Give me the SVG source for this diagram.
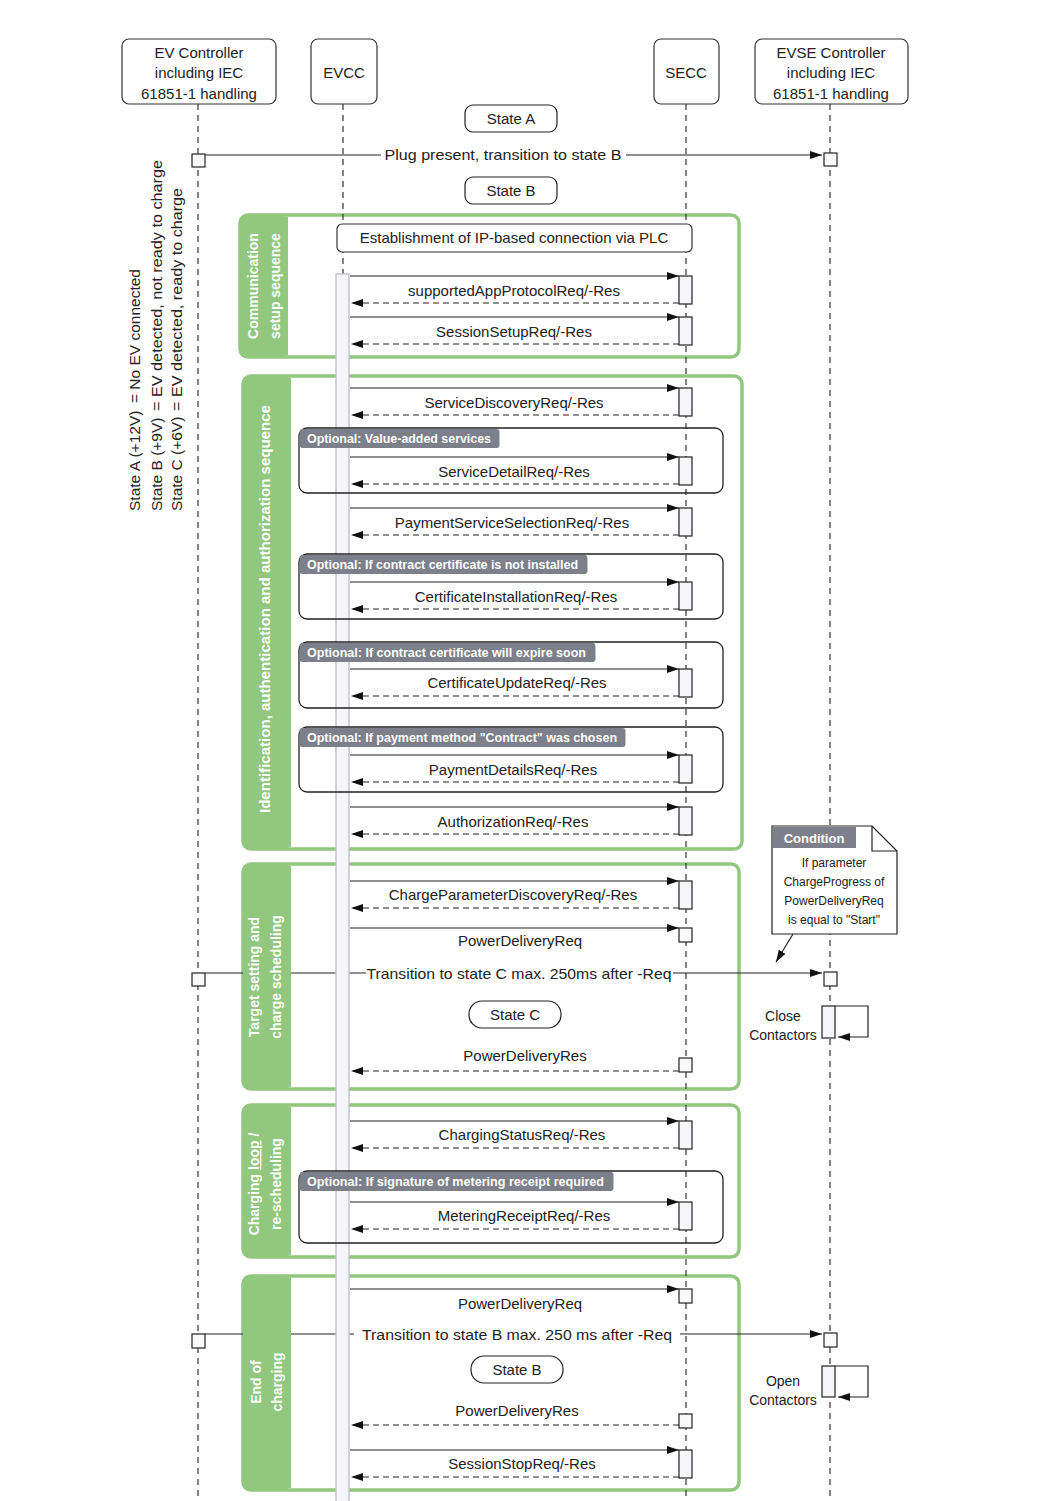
<svg xmlns="http://www.w3.org/2000/svg" width="1052" height="1501" viewBox="0 0 1052 1501">
<defs>
<marker id="ah" markerUnits="userSpaceOnUse" markerWidth="13" markerHeight="9" refX="12" refY="4" orient="auto">
<path d="M0,0 L12,4 L0,8 z" fill="#111"/>
</marker>
</defs>
<style>
.t{font-family:"Liberation Sans",Arial,sans-serif;font-size:15px;fill:#222}
.c{text-anchor:middle}
.hb{fill:#fff;stroke:#333;stroke-width:1.2}
.ll{stroke:#333;stroke-width:1.2;stroke-dasharray:6 5;fill:none}
.msg{stroke:#222;stroke-width:1.2;fill:none;marker-end:url(#ah)}
.ret{stroke:#222;stroke-width:1.2;fill:none;stroke-dasharray:6 4;marker-end:url(#ah)}
.act{fill:#f6f6fa;stroke:#222;stroke-width:1.2}
.sec{fill:none;stroke:#91c77e;stroke-width:3.5}
.side{fill:#91c77e}
.st{font-family:"Liberation Sans",Arial,sans-serif;font-size:14px;font-weight:bold;fill:#fff;text-anchor:middle}
.opt{fill:none;stroke:#222;stroke-width:1.3}
.tab{fill:#7d808b}
.tt{font-family:"Liberation Sans",Arial,sans-serif;font-size:12px;font-weight:bold;fill:#fff}
.sq{fill:#fafafa;stroke:#222;stroke-width:1.2}
.pill{fill:#fff;stroke:#222;stroke-width:1.2}
.lg{font-family:"Liberation Sans",Arial,sans-serif;font-size:15.5px;fill:#222}
</style>

<!-- section frames -->
<g id="sections">
<rect class="sec" x="240" y="215" width="499" height="142" rx="8"/>
<rect class="sec" x="243" y="376" width="499" height="473" rx="8"/>
<rect class="sec" x="243" y="864" width="496" height="225" rx="8"/>
<rect class="sec" x="243" y="1105" width="496" height="152" rx="8"/>
<rect class="sec" x="243" y="1276" width="496" height="214" rx="8"/>
</g>

<!-- participants -->
<g id="p-evc">
<rect class="hb" x="122" y="39" width="154" height="65" rx="7"/>
<text class="t c" x="199" y="58">EV Controller</text>
<text class="t c" x="199" y="78">including IEC</text>
<text class="t c" x="199" y="99">61851-1 handling</text>
</g>
<g id="p-evcc">
<rect class="hb" x="311" y="39" width="66" height="65" rx="7"/>
<text class="t c" x="344" y="78">EVCC</text>
</g>
<g id="p-secc">
<rect class="hb" x="654" y="39" width="65" height="65" rx="7"/>
<text class="t c" x="686" y="78">SECC</text>
</g>
<g id="p-evse">
<rect class="hb" x="755" y="39" width="153" height="65" rx="7"/>
<text class="t c" x="831" y="58">EVSE Controller</text>
<text class="t c" x="831" y="78">including IEC</text>
<text class="t c" x="831" y="99">61851-1 handling</text>
</g>

<g id="lifelines">
<line class="ll" x1="198" y1="104" x2="198" y2="1501"/>
<line class="ll" x1="343" y1="104" x2="343" y2="1501"/>
<line class="ll" x1="686" y1="104" x2="686" y2="1501"/>
<line class="ll" x1="830" y1="104" x2="830" y2="1501"/>
</g>

<!-- states -->
<g id="state-a"><rect class="pill" x="465" y="105" width="92" height="27" rx="8"/><text class="t c" x="511" y="124">State A</text></g>
<g id="state-b1"><rect class="pill" x="465" y="177" width="92" height="27" rx="8"/><text class="t c" x="511" y="196">State B</text></g>
<g id="state-c"><rect class="pill" x="469" y="1001" width="92" height="27" rx="13"/><text class="t c" x="515" y="1020">State C</text></g>
<g id="state-b2"><rect class="pill" x="471" y="1356" width="92" height="27" rx="13"/><text class="t c" x="517" y="1375">State B</text></g>

<g id="connectors">
<line class="msg" x1="205" y1="155" x2="822" y2="155"/>
<line class="msg" x1="205" y1="973" x2="822" y2="973"/>
<line class="msg" x1="205" y1="1334" x2="822" y2="1334"/>

<line class="msg" x1="350" y1="276" x2="679" y2="276"/><line class="ret" x1="679" y1="303" x2="351" y2="303"/>
<line class="msg" x1="350" y1="317" x2="679" y2="317"/><line class="ret" x1="679" y1="344" x2="351" y2="344"/>
<line class="msg" x1="350" y1="388" x2="679" y2="388"/><line class="ret" x1="679" y1="415" x2="351" y2="415"/>
<line class="msg" x1="350" y1="457" x2="679" y2="457"/><line class="ret" x1="679" y1="484" x2="351" y2="484"/>
<line class="msg" x1="350" y1="508" x2="679" y2="508"/><line class="ret" x1="679" y1="535" x2="351" y2="535"/>
<line class="msg" x1="350" y1="582" x2="679" y2="582"/><line class="ret" x1="679" y1="609" x2="351" y2="609"/>
<line class="msg" x1="350" y1="669" x2="679" y2="669"/><line class="ret" x1="679" y1="696" x2="351" y2="696"/>
<line class="msg" x1="350" y1="755" x2="679" y2="755"/><line class="ret" x1="679" y1="782" x2="351" y2="782"/>
<line class="msg" x1="350" y1="807" x2="679" y2="807"/><line class="ret" x1="679" y1="834" x2="351" y2="834"/>
<line class="msg" x1="350" y1="881" x2="679" y2="881"/><line class="ret" x1="679" y1="908" x2="351" y2="908"/>
<line class="msg" x1="350" y1="928" x2="679" y2="928"/>
<line class="ret" x1="679" y1="1071" x2="351" y2="1071"/>
<line class="msg" x1="350" y1="1121" x2="679" y2="1121"/><line class="ret" x1="679" y1="1148" x2="351" y2="1148"/>
<line class="msg" x1="350" y1="1202" x2="679" y2="1202"/><line class="ret" x1="679" y1="1229" x2="351" y2="1229"/>
<line class="msg" x1="350" y1="1289" x2="679" y2="1289"/>
<line class="ret" x1="679" y1="1425" x2="351" y2="1425"/>
<line class="msg" x1="350" y1="1450" x2="679" y2="1450"/><line class="ret" x1="679" y1="1477" x2="351" y2="1477"/>

<line class="msg" x1="793" y1="934" x2="776" y2="962"/>
<path class="msg" d="M835,1006 H868 V1037 H838"/>
<path class="msg" d="M835,1366 H868 V1397 H838"/>
</g>

<g id="activations">
<rect class="act" x="679" y="276" width="13" height="28"/>
<rect class="act" x="679" y="317" width="13" height="28"/>
<rect class="act" x="679" y="388" width="13" height="28"/>
<rect class="act" x="679" y="457" width="13" height="28"/>
<rect class="act" x="679" y="508" width="13" height="28"/>
<rect class="act" x="679" y="582" width="13" height="28"/>
<rect class="act" x="679" y="669" width="13" height="28"/>
<rect class="act" x="679" y="755" width="13" height="28"/>
<rect class="act" x="679" y="807" width="13" height="28"/>
<rect class="act" x="679" y="881" width="13" height="28"/>
<rect class="sq" x="679" y="928" width="13" height="14"/>
<rect class="sq" x="679" y="1058" width="13" height="14"/>
<rect class="act" x="679" y="1121" width="13" height="28"/>
<rect class="act" x="679" y="1202" width="13" height="28"/>
<rect class="sq" x="679" y="1289" width="13" height="14"/>
<rect class="sq" x="679" y="1414" width="13" height="14"/>
<rect class="act" x="679" y="1450" width="13" height="28"/>
<rect class="sq" x="192" y="154" width="13" height="13"/>
<rect class="sq" x="824" y="153" width="13" height="13"/>
<rect class="sq" x="192" y="973" width="13" height="13"/>
<rect class="sq" x="824" y="972" width="13" height="14"/>
<rect class="sq" x="192" y="1334" width="13" height="14"/>
<rect class="sq" x="824" y="1333" width="13" height="14"/>
<rect class="act" x="822" y="1006" width="13" height="32"/>
<rect class="act" x="822" y="1366" width="13" height="31"/>
</g>

<g id="sidebars">
<rect class="side" x="240" y="215" width="48" height="142" rx="8"/><rect class="side" x="262" y="216.75" width="26" height="138.5"/>
<rect class="side" x="243" y="376" width="48" height="473" rx="8"/><rect class="side" x="265" y="377.75" width="26" height="469.5"/>
<rect class="side" x="243" y="864" width="48" height="225" rx="8"/><rect class="side" x="265" y="865.75" width="26" height="221.5"/>
<rect class="side" x="243" y="1105" width="48" height="152" rx="8"/><rect class="side" x="265" y="1106.75" width="26" height="148.5"/>
<rect class="side" x="243" y="1276" width="48" height="214" rx="8"/><rect class="side" x="265" y="1277.75" width="26" height="210.5"/>
<text class="st" transform="translate(258,286) rotate(-90)">Communication</text>
<text class="st" transform="translate(280,286) rotate(-90)">setup sequence</text>
<text class="st" transform="translate(270,609) rotate(-90)" textLength="408" lengthAdjust="spacingAndGlyphs">Identification, authentication and authorization sequence</text>
<text class="st" transform="translate(259,977) rotate(-90)">Target setting and</text>
<text class="st" transform="translate(281,977) rotate(-90)">charge scheduling</text>
<text class="st" transform="translate(259,1184) rotate(-90)">Charging <tspan text-decoration="underline">loop</tspan> /</text>
<text class="st" transform="translate(281,1184) rotate(-90)">re-scheduling</text>
<text class="st" transform="translate(261,1382) rotate(-90)">End of</text>
<text class="st" transform="translate(282,1382) rotate(-90)">charging</text>
</g>

<rect id="evcc-bar" x="336" y="274" width="13" height="1230" fill="#f5f5fa" stroke="#c4c4ce" stroke-width="1.5"/>

<g id="optionals">
<rect class="opt" x="299" y="428" width="424" height="65" rx="8"/>
<rect class="opt" x="299" y="554" width="424" height="65" rx="8"/>
<rect class="opt" x="299" y="642" width="424" height="66" rx="8"/>
<rect class="opt" x="299" y="727" width="424" height="65" rx="8"/>
<rect class="opt" x="299" y="1171" width="424" height="72" rx="8"/>
<rect class="tab" x="299.5" y="429" width="200" height="19" rx="3"/>
<text class="tt" x="307" y="443" textLength="184" lengthAdjust="spacingAndGlyphs">Optional: Value-added services</text>
<rect class="tab" x="299.5" y="555" width="288" height="19" rx="3"/>
<text class="tt" x="307" y="569" textLength="271" lengthAdjust="spacingAndGlyphs">Optional: If contract certificate is not installed</text>
<rect class="tab" x="299.5" y="643" width="296" height="19" rx="3"/>
<text class="tt" x="307" y="657" textLength="279" lengthAdjust="spacingAndGlyphs">Optional: If contract certificate will expire soon</text>
<rect class="tab" x="299.5" y="728" width="326" height="19" rx="3"/>
<text class="tt" x="307" y="742" textLength="310" lengthAdjust="spacingAndGlyphs">Optional: If payment method "Contract" was chosen</text>
<rect class="tab" x="299.5" y="1172" width="314" height="19" rx="3"/>
<text class="tt" x="307" y="1186" textLength="297" lengthAdjust="spacingAndGlyphs">Optional: If signature of metering receipt required</text>
</g>

<g id="establish">
<rect class="hb" x="337" y="224" width="355" height="28" rx="5"/>
<text class="t c" x="514" y="243">Establishment of IP-based connection via PLC</text>
</g>

<g id="labels">
<rect x="381" y="145" width="245" height="20" fill="#fff"/>
<text class="t c" x="503" y="160" textLength="237" lengthAdjust="spacingAndGlyphs">Plug present, transition to state B</text>
<rect x="366" y="963" width="307" height="20" fill="#fff"/>
<text class="t c" x="519" y="979" textLength="305" lengthAdjust="spacingAndGlyphs">Transition to state C max. 250ms after -Req</text>
<rect x="354" y="1324" width="326" height="20" fill="#fff"/>
<text class="t c" x="517" y="1340" textLength="310" lengthAdjust="spacingAndGlyphs">Transition to state B max. 250 ms after -Req</text>

<text class="t c" x="514" y="296">supportedAppProtocolReq/-Res</text>
<text class="t c" x="514" y="337">SessionSetupReq/-Res</text>
<text class="t c" x="514" y="408">ServiceDiscoveryReq/-Res</text>
<text class="t c" x="514" y="477">ServiceDetailReq/-Res</text>
<text class="t c" x="512" y="528">PaymentServiceSelectionReq/-Res</text>
<text class="t c" x="516" y="602">CertificateInstallationReq/-Res</text>
<text class="t c" x="517" y="688">CertificateUpdateReq/-Res</text>
<text class="t c" x="513" y="775">PaymentDetailsReq/-Res</text>
<text class="t c" x="513" y="827">AuthorizationReq/-Res</text>
<text class="t c" x="513" y="900">ChargeParameterDiscoveryReq/-Res</text>
<text class="t c" x="520" y="946">PowerDeliveryReq</text>
<text class="t c" x="525" y="1061">PowerDeliveryRes</text>
<text class="t c" x="522" y="1140">ChargingStatusReq/-Res</text>
<text class="t c" x="524" y="1221">MeteringReceiptReq/-Res</text>
<text class="t c" x="520" y="1309">PowerDeliveryReq</text>
<text class="t c" x="517" y="1416">PowerDeliveryRes</text>
<text class="t c" x="522" y="1469">SessionStopReq/-Res</text>

<text class="t c" x="783" y="1021" style="font-size:14px">Close</text>
<text class="t c" x="783" y="1040" style="font-size:14px">Contactors</text>
<text class="t c" x="783" y="1386" style="font-size:14px">Open</text>
<text class="t c" x="783" y="1405" style="font-size:14px">Contactors</text>
</g>

<g id="legend">
<text class="lg" transform="translate(140,511) rotate(-90)">State A (+12V)</text>
<text class="lg" transform="translate(140,403) rotate(-90)">= No EV connected</text>
<text class="lg" transform="translate(162,511) rotate(-90)">State B (+9V)</text>
<text class="lg" transform="translate(162,411) rotate(-90)" textLength="251" lengthAdjust="spacingAndGlyphs">= EV detected, not ready to charge</text>
<text class="lg" transform="translate(182,511) rotate(-90)">State C (+6V)</text>
<text class="lg" transform="translate(182,411) rotate(-90)" textLength="223" lengthAdjust="spacingAndGlyphs">= EV detected, ready to charge</text>
</g>

<g id="condition">
<path d="M772,826 H872 L897,851 V934 H772 Z" fill="#fff" stroke="#222" stroke-width="1.2"/>
<path d="M872,826 V851 H897" fill="none" stroke="#222" stroke-width="1.2"/>
<rect x="773" y="827" width="83" height="21" fill="#7d808b"/>
<text class="tt c" x="814" y="843" style="font-size:13px">Condition</text>
<text class="t c" x="834" y="867" style="font-size:12px">If parameter</text>
<text class="t c" x="834" y="886" style="font-size:12px">ChargeProgress of</text>
<text class="t c" x="834" y="905" style="font-size:12px">PowerDeliveryReq</text>
<text class="t c" x="834" y="924" style="font-size:12px">is equal to "Start"</text>
</g>
</svg>
